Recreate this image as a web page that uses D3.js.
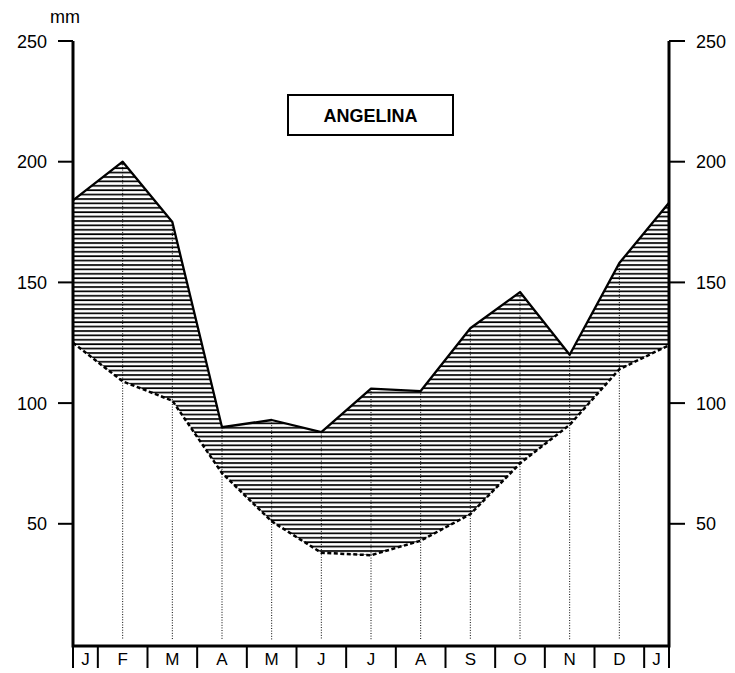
<!DOCTYPE html>
<html>
<head>
<meta charset="utf-8">
<style>
  body { margin: 0; background: #fff; }
  svg { font-family: "Liberation Sans", Arial, sans-serif; }
</style>
</head>
<body>
<svg width="735" height="673"></svg>
<script src="https://d3js.org/d3.v7.min.js"></script>
<script>
// month labels along the bottom (first and last J are the half-months at the edges)
var months = ["J","F","M","A","M","J","J","A","S","O","N","D","J"];
// precipitation, mm (top curve)
var precip = [184, 200, 175, 90, 93, 88, 106, 105, 131, 146, 120, 158, 183];
// evapotranspiration-like curve, mm (lower dashed curve)
var lower = [125, 109, 101, 71, 51, 38, 37, 43, 54, 75, 91, 114, 124];
var yTicks = [50, 100, 150, 200, 250];
var title = "ANGELINA";

var svg = d3.select("svg");
var x = d3.scaleLinear().domain([0, 12]).range([73, 669]);
var y = d3.scaleLinear().domain([0, 250]).range([644.5, 41]);
var bottom = 646;

// hatch pattern
var pat = svg.append("defs").append("pattern")
    .attr("id", "hatch")
    .attr("patternUnits", "userSpaceOnUse")
    .attr("width", 10)
    .attr("height", 4.4);
pat.append("line")
    .attr("x1", 0).attr("x2", 10)
    .attr("y1", 1).attr("y2", 1)
    .attr("stroke", "#000")
    .attr("stroke-width", 1.7);

var area = d3.area()
    .x(function(d, i) { return x(i); })
    .y0(function(d, i) { return y(lower[i]); })
    .y1(function(d) { return y(d); });

svg.append("path")
    .datum(precip)
    .attr("d", area)
    .attr("fill", "url(#hatch)");

// dotted verticals at each month
svg.selectAll(".vline")
    .data(precip.slice(1, 12))
    .enter().append("line")
    .attr("x1", function(d, i) { return x(i + 1); })
    .attr("x2", function(d, i) { return x(i + 1); })
    .attr("y1", function(d) { return y(d); })
    .attr("y2", 640)
    .attr("stroke", "#000")
    .attr("stroke-width", 1)
    .attr("stroke-dasharray", "1,1.6");

var line = d3.line().x(function(d, i) { return x(i); }).y(function(d) { return y(d); });

svg.append("path")
    .datum(precip)
    .attr("d", line)
    .attr("fill", "none")
    .attr("stroke", "#000")
    .attr("stroke-width", 2.3)
    .attr("stroke-linejoin", "round");

svg.append("path")
    .datum(lower)
    .attr("d", line)
    .attr("fill", "none")
    .attr("stroke", "#000")
    .attr("stroke-width", 2.5)
    .attr("stroke-dasharray", "4,2.5");

// frame: left, right, bottom
svg.append("path")
    .attr("d", "M" + x(0) + "," + y(250) + "V" + bottom + "H" + x(12) + "V" + y(250))
    .attr("fill", "none")
    .attr("stroke", "#000")
    .attr("stroke-width", 3);

// y ticks both sides
yTicks.forEach(function(t) {
  svg.append("line")
      .attr("x1", x(0) - 15).attr("x2", x(0))
      .attr("y1", y(t)).attr("y2", y(t))
      .attr("stroke", "#000").attr("stroke-width", 2);
  svg.append("line")
      .attr("x1", x(12)).attr("x2", x(12) + 16)
      .attr("y1", y(t)).attr("y2", y(t))
      .attr("stroke", "#000").attr("stroke-width", 2);
  svg.append("text")
      .attr("x", 47).attr("y", y(t) + 6.5)
      .attr("text-anchor", "end")
      .attr("font-size", 18)
      .text(t);
  svg.append("text")
      .attr("x", 696).attr("y", y(t) + 6.5)
      .attr("font-size", 18)
      .text(t);
});

svg.append("text")
    .attr("x", 50).attr("y", 23)
    .attr("font-size", 18)
    .text("mm");

// bottom month separators and labels
var seps = [0];
for (var i = 0; i < 12; i++) seps.push(i + 0.5);
seps.push(12);
svg.selectAll(".sep")
    .data(seps)
    .enter().append("line")
    .attr("x1", function(d) { return x(d); })
    .attr("x2", function(d) { return x(d); })
    .attr("y1", bottom)
    .attr("y2", 668)
    .attr("stroke", "#000")
    .attr("stroke-width", 2);

svg.selectAll(".mlab")
    .data(months)
    .enter().append("text")
    .attr("x", function(d, i) {
      if (i === 0) return x(0.25);
      if (i === 12) return x(11.75);
      return x(i);
    })
    .attr("y", 665)
    .attr("text-anchor", "middle")
    .attr("font-size", 17)
    .text(function(d) { return d; });

// title box
svg.append("rect")
    .attr("x", 288).attr("y", 95)
    .attr("width", 165).attr("height", 40)
    .attr("fill", "#fff")
    .attr("stroke", "#000")
    .attr("stroke-width", 2);
svg.append("text")
    .attr("x", 370.5).attr("y", 122)
    .attr("text-anchor", "middle")
    .attr("font-size", 18)
    .attr("font-weight", "bold")
    .text(title);
</script>
</body>
</html>
